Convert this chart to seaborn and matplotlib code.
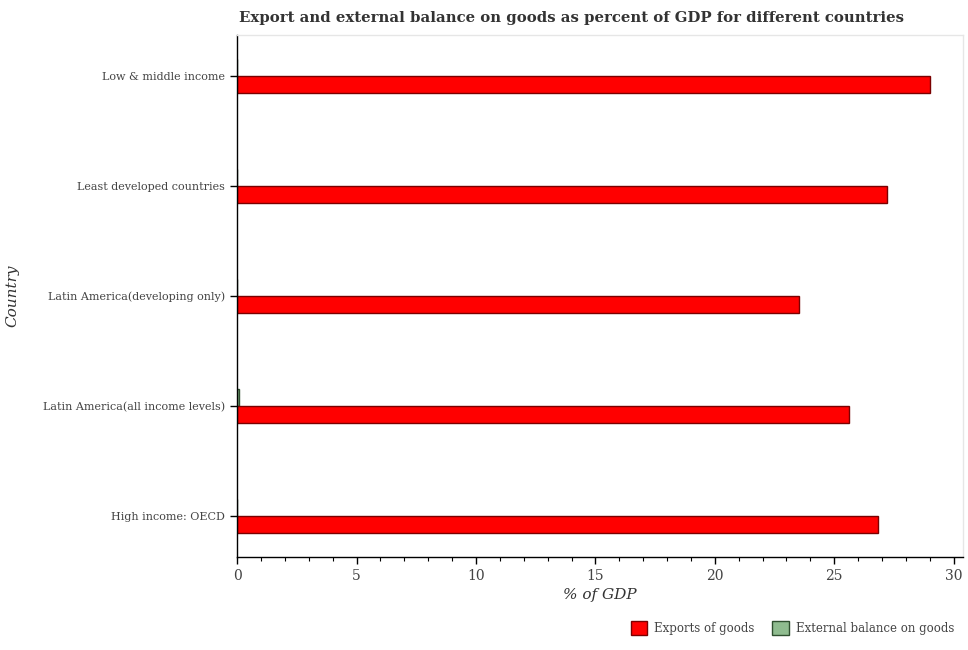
import matplotlib
matplotlib.use("Agg")
import matplotlib.pyplot as plt
import pandas as pd
import seaborn as sns
from matplotlib.ticker import MultipleLocator
from matplotlib.patches import Patch

# categories listed bottom -> top in the reference
countries = ["High income: OECD",
             "Latin America(all income levels)",
             "Latin America(developing only)",
             "Least developed countries",
             "Low & middle income"]
exports = [26.85, 25.62, 23.53, 27.21, 29.0]
ext_balance = [0.0, 0.07, 0.0, 0.0, 0.0]

df = pd.DataFrame({
    "Country": countries * 2,
    "value": exports + ext_balance,
    "series": ["Exports of goods"] * 5 + ["External balance on goods"] * 5,
})

colors = {"Exports of goods": "#ff0000", "External balance on goods": "#8fbc8f"}
edges = {"Exports of goods": "#7a0000", "External balance on goods": "#2f4f2f"}

sns.set_style("white")
plt.rcParams['font.family'] = ['DejaVu Serif']

fig = plt.figure(figsize=(9.68, 6.5), dpi=100)
ax = fig.add_axes([0.245, 0.143, 0.75, 0.803])

order = countries[::-1]  # seaborn draws first category at top
hue_order = ["External balance on goods", "Exports of goods"]
sns.barplot(data=df, y="Country", x="value", hue="series", order=order,
            hue_order=hue_order, palette=colors, orient="h", width=0.31,
            gap=0, dodge=True, legend=False, ax=ax, linewidth=1, saturation=1)

for cont, name in zip(ax.containers, hue_order):
    for p in cont:
        p.set_edgecolor(edges[name])

ax.set_xlim(0, 30.4)
ax.set_ylim(4.37, -0.37)
ax.xaxis.set_major_locator(MultipleLocator(5))
ax.xaxis.set_minor_locator(MultipleLocator(1))
ax.tick_params(axis="x", which="major", length=5, width=1, color="black",
               labelsize=10, labelcolor="#444444", direction="out", bottom=True)
ax.tick_params(axis="x", which="minor", length=3, width=0.8, color="black",
               direction="out", bottom=True)
ax.tick_params(axis="y", length=5, width=1, color="black", labelsize=8,
               labelcolor="#444444", left=True)

for s in ["left", "bottom"]:
    ax.spines[s].set_color("black")
    ax.spines[s].set_linewidth(1)
for s in ["top", "right"]:
    ax.spines[s].set_color("#e6e6e6")
    ax.spines[s].set_linewidth(1)

ax.set_xlabel("% of GDP", fontsize=11, style="italic", color="#333333")
ax.set_ylabel("Country", fontsize=11, style="italic", color="#333333")
ax.yaxis.set_label_coords(-0.30, 0.5)

fig.text(0.59, 0.972, "Export and external balance on goods as percent of GDP for different countries",
         ha="center", va="center", fontsize=10.7, fontweight="bold", color="#333333")

handles = [Patch(facecolor=colors[k], edgecolor=edges[k], label=k)
           for k in ["Exports of goods", "External balance on goods"]]
fig.legend(handles=handles, ncol=2, loc="center right", bbox_to_anchor=(0.997, 0.034),
           frameon=False, fontsize=8.5, labelcolor="#444444", handlelength=1.4,
           handleheight=1.4, columnspacing=1.5, handletextpad=0.6)

fig.savefig("out.png", dpi=100)
